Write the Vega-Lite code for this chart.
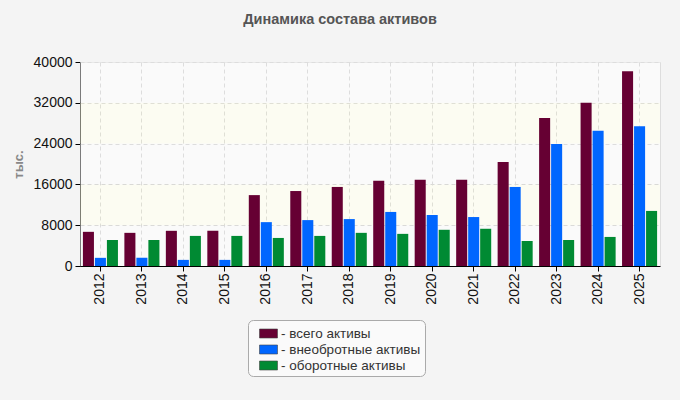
{
  "$schema": "https://vega.github.io/schema/vega-lite/v6.json",
  "width": 580,
  "height": 204,
  "autosize": {"type": "none"},
  "padding": {"left": 80, "top": 62, "right": 20, "bottom": 134},
  "background": "#f4f4f4",
  "title": {
    "text": "Динамика состава активов",
    "font": "Liberation Sans",
    "fontSize": 14.5,
    "fontWeight": "bold",
    "color": "#555555",
    "anchor": "middle",
    "dx": -30,
    "offset": 28
  },
  "config": {
    "font": "Liberation Sans",
    "view": {"fill": "#ffffff", "stroke": "#dddddd", "strokeWidth": 1}
  },
  "layer": [
    {
      "data": {
        "values": [
          {"lo": 0, "hi": 8000, "t": "h"},
          {"lo": 8000, "hi": 16000, "t": "p"},
          {"lo": 16000, "hi": 24000, "t": "h"},
          {"lo": 24000, "hi": 32000, "t": "p"},
          {"lo": 32000, "hi": 40000, "t": "h"}
        ]
      },
      "mark": {"type": "rect", "opacity": 0.5},
      "encoding": {
        "y": {
          "field": "lo",
          "type": "quantitative",
          "scale": {"domain": [0, 40000], "nice": false},
          "axis": {
            "title": "тыс.",
            "titleColor": "#888888",
            "titleFontSize": 13,
            "titleFontWeight": "bold",
            "titleAngle": -90,
            "titleX": -62,
            "titleY": 102,
            "titleAlign": "center",
            "titleBaseline": "middle",
            "values": [0, 8000, 16000, 24000, 32000, 40000],
            "format": "d",
            "labelFontSize": 14,
            "labelColor": "#111111",
            "labelPadding": 3,
            "tickColor": "#000000",
            "tickSize": 5,
            "domainColor": "#000000",
            "grid": true,
            "gridColor": "#c4c4c4",
            "gridDash": [4, 3]
          }
        },
        "y2": {"field": "hi"},
        "fill": {
          "condition": {"test": "datum.t === 'h'", "value": "#f5f5f5"},
          "value": "#fafae6"
        }
      }
    },
    {
      "data": {
        "values": [
          {"year": "2012", "series": "всего активы", "value": 6700},
          {"year": "2012", "series": "внеобротные активы", "value": 1600},
          {"year": "2012", "series": "оборотные активы", "value": 5100},
          {"year": "2013", "series": "всего активы", "value": 6500},
          {"year": "2013", "series": "внеобротные активы", "value": 1600},
          {"year": "2013", "series": "оборотные активы", "value": 5100},
          {"year": "2014", "series": "всего активы", "value": 6900},
          {"year": "2014", "series": "внеобротные активы", "value": 1200},
          {"year": "2014", "series": "оборотные активы", "value": 5900},
          {"year": "2015", "series": "всего активы", "value": 6900},
          {"year": "2015", "series": "внеобротные активы", "value": 1200},
          {"year": "2015", "series": "оборотные активы", "value": 5900},
          {"year": "2016", "series": "всего активы", "value": 13900},
          {"year": "2016", "series": "внеобротные активы", "value": 8600},
          {"year": "2016", "series": "оборотные активы", "value": 5500},
          {"year": "2017", "series": "всего активы", "value": 14700},
          {"year": "2017", "series": "внеобротные активы", "value": 9000},
          {"year": "2017", "series": "оборотные активы", "value": 5900},
          {"year": "2018", "series": "всего активы", "value": 15500},
          {"year": "2018", "series": "внеобротные активы", "value": 9200},
          {"year": "2018", "series": "оборотные активы", "value": 6500},
          {"year": "2019", "series": "всего активы", "value": 16700},
          {"year": "2019", "series": "внеобротные активы", "value": 10600},
          {"year": "2019", "series": "оборотные активы", "value": 6300},
          {"year": "2020", "series": "всего активы", "value": 16900},
          {"year": "2020", "series": "внеобротные активы", "value": 10000},
          {"year": "2020", "series": "оборотные активы", "value": 7100},
          {"year": "2021", "series": "всего активы", "value": 16900},
          {"year": "2021", "series": "внеобротные активы", "value": 9600},
          {"year": "2021", "series": "оборотные активы", "value": 7300},
          {"year": "2022", "series": "всего активы", "value": 20400},
          {"year": "2022", "series": "внеобротные активы", "value": 15500},
          {"year": "2022", "series": "оборотные активы", "value": 4900},
          {"year": "2023", "series": "всего активы", "value": 29000},
          {"year": "2023", "series": "внеобротные активы", "value": 23900},
          {"year": "2023", "series": "оборотные активы", "value": 5100},
          {"year": "2024", "series": "всего активы", "value": 32000},
          {"year": "2024", "series": "внеобротные активы", "value": 26500},
          {"year": "2024", "series": "оборотные активы", "value": 5700},
          {"year": "2025", "series": "всего активы", "value": 38200},
          {"year": "2025", "series": "внеобротные активы", "value": 27400},
          {"year": "2025", "series": "оборотные активы", "value": 10800}
        ]
      },
      "mark": {"type": "bar"},
      "encoding": {
        "x": {
          "field": "year",
          "type": "nominal",
          "scale": {"paddingInner": 0.155, "paddingOuter": 0.07},
          "axis": {
            "title": null,
            "labelAngle": -90,
            "labelAlign": "right",
            "labelBaseline": "middle",
            "labelFontSize": 14,
            "labelColor": "#111111",
            "labelPadding": 2,
            "tickColor": "#000000",
            "tickSize": 5,
            "domainColor": "#000000",
            "bandPosition": 0.5,
            "grid": true,
            "gridColor": "#c4c4c4",
            "gridDash": [4, 3]
          }
        },
        "xOffset": {
          "field": "series",
          "type": "nominal",
          "sort": ["всего активы", "внеобротные активы", "оборотные активы"],
          "scale": {"paddingInner": 0.08}
        },
        "y": {
          "field": "value",
          "type": "quantitative",
          "scale": {"domain": [0, 40000], "nice": false},
          "axis": {
            "title": "тыс.",
            "titleColor": "#888888",
            "titleFontSize": 13,
            "titleFontWeight": "bold",
            "titleAngle": -90,
            "titleX": -62,
            "titleY": 102,
            "titleAlign": "center",
            "titleBaseline": "middle",
            "values": [0, 8000, 16000, 24000, 32000, 40000],
            "format": "d",
            "labelFontSize": 14,
            "labelColor": "#111111",
            "labelPadding": 3,
            "tickColor": "#000000",
            "tickSize": 5,
            "domainColor": "#000000",
            "grid": true,
            "gridColor": "#c4c4c4",
            "gridDash": [4, 3]
          }
        },
        "color": {
          "field": "series",
          "type": "nominal",
          "scale": {
            "domain": ["всего активы", "внеобротные активы", "оборотные активы"],
            "range": ["#660033", "#0066ff", "#008a33"]
          },
          "legend": {
            "title": null,
            "orient": "none",
            "legendX": 168,
            "legendY": 258,
            "direction": "vertical",
            "fillColor": "#fafafa",
            "strokeColor": "#aaaaaa",
            "cornerRadius": 5,
            "padding": 4,
            "symbolOffset": 7,
            "symbolType": "M-1,-0.5H1V0.5H-1Z",
            "symbolSize": 324,
            "symbolStrokeColor": "#444444",
            "symbolStrokeWidth": 0.6,
            "rowPadding": 0,
            "labelOffset": 3,
            "labelFontSize": 13.5,
            "labelColor": "#333333",
            "labelExpr": "'- ' + datum.label",
            "labelLimit": 300
          }
        }
      }
    }
  ]
}
